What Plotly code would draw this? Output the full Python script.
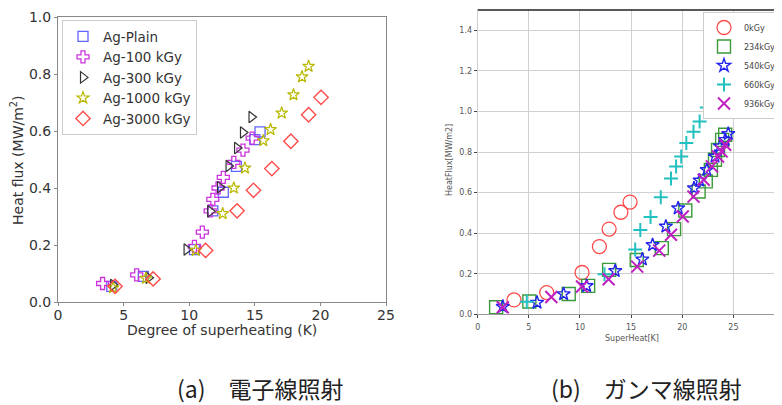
import plotly.graph_objects as go

# page body has an 8px margin, so the figure is drawn 8px in from the window corner
OFF = 8
W, H = 782 - OFF, 405 - OFF

def fx(X):
    return (X - OFF) / W

def fy(Y):
    return 1 - (Y - OFF) / H

# ---------- (a) electron beam data ----------
plain_x = [4.1, 6.5, 10.4, 11.8, 12.6, 13.6, 15.0, 15.4]
plain_y = [0.055, 0.09, 0.184, 0.32, 0.385, 0.476, 0.57, 0.597]
k100_x = [3.4, 6.0, 10.4, 11.0, 11.6, 11.8, 12.2, 12.6, 13.4, 14.1, 14.8]
k100_y = [0.065, 0.095, 0.195, 0.245, 0.32, 0.36, 0.40, 0.437, 0.49, 0.533, 0.575]
k300_x = [4.2, 6.9, 9.8, 11.6, 12.35, 13.0, 13.65, 14.1, 14.75]
k300_y = [0.06, 0.085, 0.184, 0.318, 0.403, 0.477, 0.54, 0.595, 0.649]
k1000_x = [4.2, 6.7, 10.5, 12.55, 13.4, 14.25, 15.65, 16.2, 17.05, 17.95, 18.6, 19.1]
k1000_y = [0.05, 0.083, 0.181, 0.31, 0.40, 0.47, 0.566, 0.605, 0.663, 0.727, 0.79, 0.827]
k3000_x = [4.35, 7.25, 11.25, 13.65, 14.9, 16.3, 17.75, 19.1, 20.05]
k3000_y = [0.055, 0.081, 0.181, 0.32, 0.392, 0.468, 0.564, 0.657, 0.718]

# ---------- (b) gamma ray data ----------
g0_x = [3.55, 6.75, 10.2, 11.9, 12.85, 14.0, 14.9]
g0_y = [0.071, 0.107, 0.206, 0.334, 0.42, 0.503, 0.553]
g234_x = [1.8, 5.05, 8.9, 10.8, 12.85, 15.55, 18.0, 19.2, 20.3, 21.6, 22.3, 22.8, 23.2, 23.5, 23.9, 24.2]
g234_y = [0.035, 0.063, 0.10, 0.14, 0.219, 0.268, 0.326, 0.42, 0.512, 0.605, 0.655, 0.712, 0.762, 0.81, 0.86, 0.885]
g540_x = [2.45, 5.8, 8.4, 10.65, 13.45, 16.1, 17.1, 18.4, 19.6, 21.15, 21.7, 22.4, 23.2, 23.7, 24.2, 24.5]
g540_y = [0.038, 0.058, 0.10, 0.14, 0.214, 0.271, 0.342, 0.433, 0.523, 0.622, 0.66, 0.712, 0.778, 0.828, 0.86, 0.89]
g660_x = [4.8, 12.4, 15.4, 15.9, 16.9, 17.9, 18.9, 19.4, 19.9, 20.4, 21.1, 21.7, 22.4]
g660_y = [0.062, 0.197, 0.32, 0.415, 0.48, 0.577, 0.67, 0.728, 0.778, 0.844, 0.90, 0.95, 1.02]
g936_x = [2.45, 7.2, 10.2, 12.8, 15.6, 17.75, 18.9, 20.05, 21.1, 22.1, 22.9, 23.5, 23.85, 24.2]
g936_y = [0.035, 0.085, 0.137, 0.173, 0.235, 0.314, 0.392, 0.482, 0.58, 0.663, 0.729, 0.778, 0.803, 0.836]

left_xticks = [0, 5, 10, 15, 20, 25]
left_yticks = [0.0, 0.2, 0.4, 0.6, 0.8, 1.0]
right_xticks = [0, 5, 10, 15, 20, 25]
right_yticks = [0.0, 0.2, 0.4, 0.6, 0.8, 1.0, 1.2, 1.4]

FONT = "DejaVu Sans"
fig = go.Figure()

def add(x, y, name, sym, color, size, lw, xa, ya, legend):
    fig.add_trace(go.Scatter(
        x=x, y=y, mode="markers", name=name, xaxis=xa, yaxis=ya, legend=legend,
        marker=dict(symbol=sym, size=size, color=color,
                    line=dict(color=color, width=lw))))

add(plain_x, plain_y, "Ag-Plain", "square-open", "#6363ff", 10, 1.3, "x", "y", "legend")
add(k100_x, k100_y, "Ag-100 kGy", "cross-open", "#cc33dd", 10, 1.3, "x", "y", "legend")
add(k300_x, k300_y, "Ag-300 kGy", "triangle-right-open", "#333333", 10, 1.2, "x", "y", "legend")
add(k1000_x, k1000_y, "Ag-1000 kGy", "star-open", "#b8b800", 9, 1.2, "x", "y", "legend")
add(k3000_x, k3000_y, "Ag-3000 kGy", "diamond-open", "#ff4a4a", 11, 1.4, "x", "y", "legend")

add(g0_x, g0_y, "0kGy", "circle-open", "#ff4a4a", 14, 1.3, "x2", "y2", "legend2")
add(g234_x, g234_y, "234kGy", "square-open", "#3a9a3a", 13, 1.4, "x2", "y2", "legend2")
add(g540_x, g540_y, "540kGy", "star-open", "#2323ee", 10, 1.4, "x2", "y2", "legend2")
add(g660_x, g660_y, "660kGy", "cross-thin-open", "#22c0c0", 10, 2, "x2", "y2", "legend2")
add(g936_x, g936_y, "936kGy", "x-thin-open", "#c020c0", 12, 2, "x2", "y2", "legend2")

# axes domains (window pixels -> paper fractions)
lx0, lx1 = fx(58), fx(386)
ly0, ly1 = fy(302), fy(17)
rx0 = fx(477.7)
ry0, ry1 = fy(314.3), fy(10)
rxmax = (782 - 477.7) / 10.227

fig.update_layout(
    width=W, height=H, margin=dict(l=0, r=0, t=0, b=0, autoexpand=False),
    paper_bgcolor="white", plot_bgcolor="white",
    font=dict(family=FONT, color="#333"),
    xaxis=dict(domain=[lx0, lx1], range=[0, 25], tickvals=left_xticks,
               showgrid=False, zeroline=False, showline=True, mirror=True,
               linecolor="#888", linewidth=1, ticks="outside", ticklen=3,
               tickcolor="#888", tickfont=dict(size=14, color="#333"),
               ticklabelstandoff=-3),
    yaxis=dict(domain=[ly0, ly1], range=[0, 1.0], tickvals=left_yticks,
               tickformat=".1f", showgrid=False, zeroline=False, showline=True,
               mirror=True, linecolor="#888", linewidth=1, ticks="outside",
               ticklen=3, tickcolor="#888", tickfont=dict(size=14, color="#333")),
    xaxis2=dict(domain=[rx0, 1.0], range=[0, rxmax], tickvals=right_xticks,
                anchor="y2", showgrid=True, gridcolor="#d0d0d0", gridwidth=1,
                zeroline=False, showline=True, linecolor="#999", linewidth=1,
                ticks="outside", ticklen=3, tickcolor="#444",
                tickfont=dict(size=8, color="#555"), ticklabelstandoff=2),
    yaxis2=dict(domain=[ry0, ry1], range=[0, 1.5], tickvals=right_yticks,
                tickformat=".1f", anchor="x2", showgrid=True, gridcolor="#d0d0d0",
                gridwidth=1, zeroline=False, showline=True, linecolor="#d0d0d0",
                ticks="outside", ticklen=3, tickcolor="#444",
                tickfont=dict(size=8, color="#555")),
    legend=dict(x=fx(62), y=fy(20), xanchor="left", yanchor="top",
                bgcolor="white", bordercolor="#cccccc", borderwidth=1,
                font=dict(size=13.5, color="#333", family=FONT),
                tracegroupgap=0, itemwidth=30),
    legend2=dict(x=fx(703), y=fy(12), xanchor="left", yanchor="top",
                 bgcolor="white", bordercolor="#cccccc", borderwidth=1,
                 font=dict(size=8, color="#444", family=FONT),
                 tracegroupgap=0, itemwidth=30),
    showlegend=True,
)

# dark top frame of right plot
fig.add_shape(type="line", xref="paper", yref="paper", x0=rx0, x1=1.0,
              y0=ry1, y1=ry1, line=dict(color="#222", width=1.5))

ann = [
    dict(text="Heat flux (MW/m<sup>2</sup>)", x=fx(17), y=fy(160), textangle=-90,
         font=dict(size=14, color="#333", family=FONT)),
    dict(text="Degree of superheating (K)", x=fx(222), y=fy(330),
         font=dict(size=14, color="#333", family=FONT)),
    dict(text="HeatFlux[MW/m2]", x=fx(449), y=fy(160), textangle=-90,
         font=dict(size=8, color="#555", family=FONT)),
    dict(text="SuperHeat[K]", x=fx(632), y=fy(338),
         font=dict(size=8, color="#555", family=FONT)),
    dict(text="(a)\u3000電子線照射", x=fx(260), y=fy(388),
         font=dict(size=23, color="#222", family="Noto Sans CJK JP")),
    dict(text="(b)\u3000ガンマ線照射", x=fx(646), y=fy(388),
         font=dict(size=23, color="#222", family="Noto Sans CJK JP")),
]
for a in ann:
    fig.add_annotation(xref="paper", yref="paper", showarrow=False,
                       xanchor="center", yanchor="middle", **a)

fig.write_html("out.html")
